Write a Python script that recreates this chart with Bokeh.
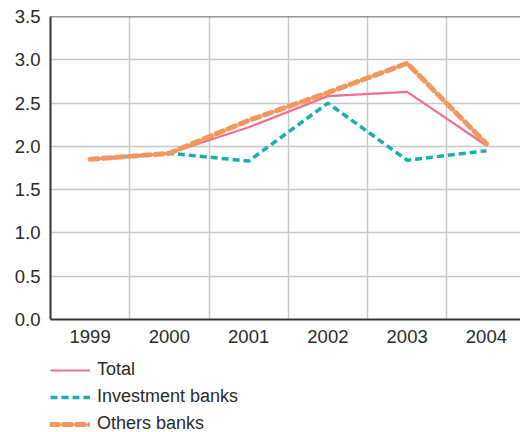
from bokeh.plotting import figure
from bokeh.layouts import column
from bokeh.models import Range1d, FixedTicker, Span, Legend, LegendItem, CustomJSTickFormatter
from bokeh.embed import file_html
from bokeh.resources import INLINE

years = [1999, 2000, 2001, 2002, 2003, 2004]
total = [1.85, 1.92, 2.22, 2.58, 2.63, 2.01]
investment = [1.85, 1.92, 1.83, 2.50, 1.84, 1.95]
others = [1.85, 1.92, 2.30, 2.62, 2.96, 2.03]
y_ticks = [0.0, 0.5, 1.0, 1.5, 2.0, 2.5, 3.0, 3.5]
series_names = ["Total", "Investment banks", "Others banks"]

FONT = "Liberation Sans"
TXT = "#2a2a2a"
styles = [dict(line_color="#EE6F8E", line_width=2.2),
          dict(line_color="#14B1A9", line_width=3.5, line_dash="7 4"),
          dict(line_color="#F4975C", line_width=5, line_dash="8 5", line_cap="round")]

p = figure(frame_width=470, frame_height=303, output_backend="svg", toolbar_location=None,
           x_range=Range1d(1998.5, 2004.43), y_range=Range1d(0, 3.5),
           min_border_left=50, min_border_right=0, min_border_top=16, min_border_bottom=30)
p.outline_line_color = None
p.background_fill_color = "white"
p.border_fill_color = "white"

p.xaxis.ticker = FixedTicker(ticks=years)
p.yaxis.ticker = FixedTicker(ticks=y_ticks)
p.yaxis.formatter = CustomJSTickFormatter(code="return tick.toFixed(1);")
p.xgrid.ticker = FixedTicker(ticks=[y + 0.5 for y in years[:-1]])
p.ygrid.ticker = FixedTicker(ticks=y_ticks)
for g in (p.xgrid, p.ygrid):
    g.grid_line_color = "#c8c8c8"
    g.grid_line_width = 1.5

for ax in (p.xaxis, p.yaxis):
    ax.axis_line_color = "#333333"
    ax.axis_line_width = 2
    ax.major_tick_line_color = None
    ax.minor_tick_line_color = None
    ax.major_tick_out = 0
    ax.minor_tick_out = 0
    ax.major_label_text_font = FONT
    ax.major_label_text_font_size = "18.5px"
    ax.major_label_text_color = TXT
p.xaxis.major_label_standoff = 10
p.yaxis.major_label_standoff = 10

p.add_layout(Span(location=3.5, dimension="width", line_color="#333333", line_width=1.5))

for vals, st in zip([total, investment, others], styles):
    p.line(years, vals, **st)

# legend panel below the chart (its ranges keep the series out of view)
leg = figure(width=520, height=83, output_backend="svg", toolbar_location=None,
             x_range=Range1d(0, 1), y_range=Range1d(0, 1),
             min_border_left=50, min_border_right=0, min_border_top=10, min_border_bottom=0)
leg.axis.visible = False
leg.grid.visible = False
leg.outline_line_color = None
leg.border_fill_color = "white"
items = []
for name, vals, st in zip(series_names, [total, investment, others], styles):
    r = leg.line(years, vals, **st)
    items.append(LegendItem(label=name, renderers=[r]))
legend = Legend(items=items, location="top_left", orientation="vertical")
legend.label_text_font = FONT
legend.label_text_font_size = "18px"
legend.label_text_color = TXT
legend.glyph_width = 40
legend.glyph_height = 20
legend.label_height = 20
legend.label_standoff = 7
legend.spacing = 6
legend.padding = 0
legend.margin = 0
legend.border_line_color = None
legend.background_fill_alpha = 0
leg.add_layout(legend)

layout = column(p, leg, spacing=0)
open("out.html", "w").write(file_html(layout, INLINE))
